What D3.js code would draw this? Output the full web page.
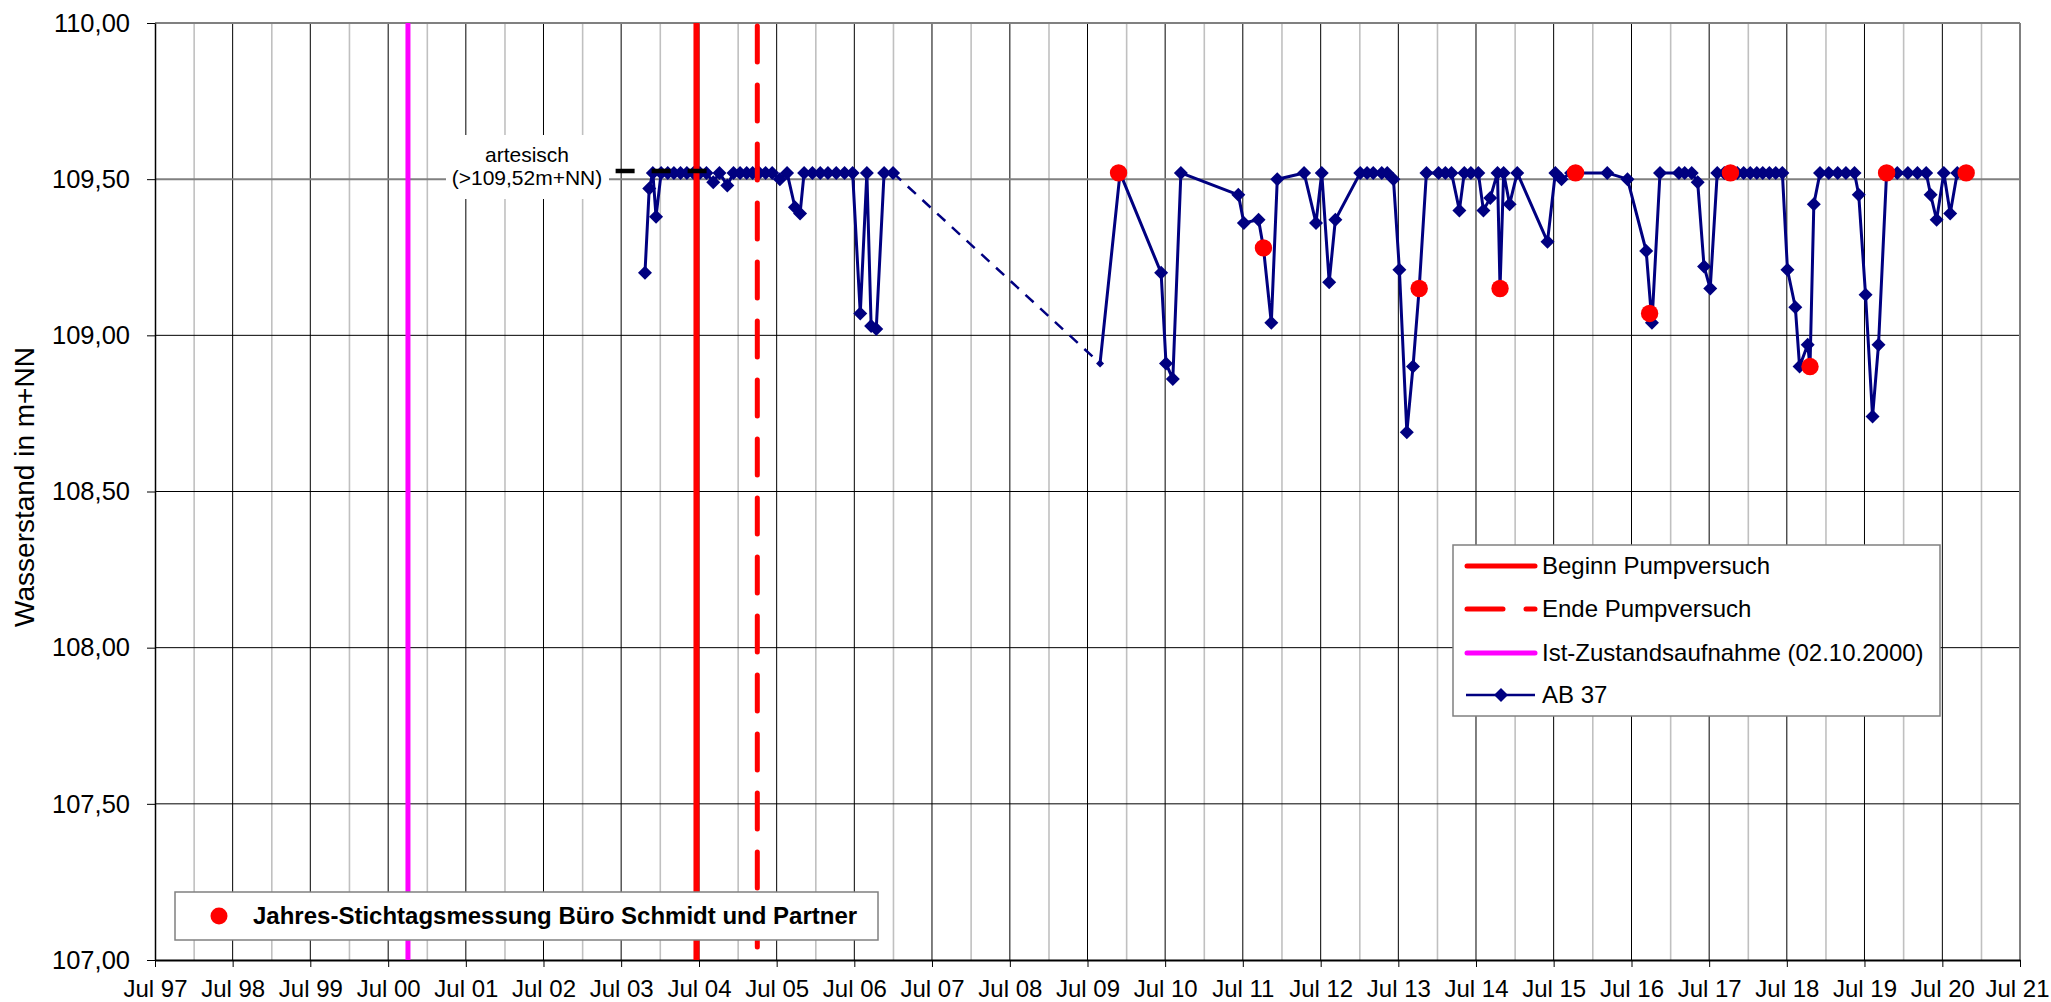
<!DOCTYPE html>
<html>
<head>
<meta charset="utf-8">
<script src="https://cdn.jsdelivr.net/npm/d3@7"></script>
<style>
  html, body { margin: 0; padding: 0; background: #fff; }
  svg { display: block; font-family: "Liberation Sans", Arial, Helvetica, sans-serif; }
</style>
</head>
<body>
<svg id="chart" width="2051" height="1002"></svg>
<script>
// ---- Messreihe AB 37 (Datum, Wasserstand in m+NN) ----
const ab37Dates = [
  "2003-10-21","2003-11-10","2003-11-27","2003-12-12",
  "2004-01-05","2004-02-05","2004-03-05","2004-04-05","2004-05-05","2004-06-05","2004-07-05","2004-08-05",
  "2004-09-06","2004-10-05","2004-11-11","2004-12-10",
  "2005-01-10","2005-02-10","2005-03-10","2005-04-10","2005-05-10","2005-06-10","2005-07-16","2005-08-19",
  "2005-09-25","2005-10-19","2005-11-07","2005-12-16",
  "2006-01-22","2006-02-27","2006-04-07","2006-05-16","2006-06-23","2006-07-29","2006-08-29","2006-09-18",
  "2006-10-12","2006-11-18","2006-12-30",
  "2009-08-29","2009-12-01",
  "2010-06-12","2010-07-05","2010-08-06","2010-09-13",
  "2011-06-10","2011-07-06","2011-09-13","2011-10-06","2011-11-12","2011-12-10",
  "2012-04-14","2012-06-09","2012-07-06","2012-08-10","2012-09-08",
  "2013-01-03","2013-02-04","2013-03-05","2013-04-14","2013-05-10","2013-06-08","2013-07-06","2013-08-10",
  "2013-09-08","2013-10-07","2013-11-10",
  "2014-01-06","2014-02-07","2014-03-08","2014-04-14","2014-05-07","2014-06-07","2014-07-12","2014-08-05",
  "2014-09-06","2014-10-10","2014-10-22","2014-11-08","2014-12-06",
  "2015-01-11","2015-06-02","2015-07-09","2015-08-07","2015-09-21","2015-10-12",
  "2016-03-09","2016-06-12","2016-09-08","2016-10-05","2016-11-12",
  "2017-02-09","2017-03-08","2017-04-10","2017-05-08","2017-06-07","2017-07-06","2017-08-08","2017-09-10",
  "2017-10-09","2017-11-10","2017-12-10",
  "2018-01-10","2018-02-10","2018-03-10","2018-04-10","2018-05-10","2018-06-10","2018-07-04","2018-08-10",
  "2018-08-30","2018-10-07","2018-10-18","2018-11-05","2018-12-04",
  "2019-01-14","2019-02-25","2019-04-05","2019-05-15","2019-06-04","2019-07-06","2019-08-08","2019-09-05",
  "2019-10-13","2019-12-02",
  "2020-01-21","2020-03-06","2020-04-16","2020-05-07","2020-06-04","2020-07-08","2020-08-07","2020-09-09",
  "2020-10-21"
];
const ab37Levels = [
  109.20,109.47,109.52,109.38,
  109.52,109.52,109.52,109.52,109.52,109.52,109.52,109.52,
  109.49,109.52,109.48,109.52,
  109.52,109.52,109.52,109.52,109.52,109.52,109.50,109.52,
  109.41,109.39,109.52,109.52,
  109.52,109.52,109.52,109.52,109.52,109.07,109.52,109.03,
  109.02,109.52,109.52,
  108.91,109.52,
  109.20,108.91,108.86,109.52,
  109.45,109.36,109.37,109.28,109.04,109.50,
  109.52,109.36,109.52,109.17,109.37,
  109.52,109.52,109.52,109.52,109.52,109.50,109.21,108.69,
  108.90,109.15,109.52,
  109.52,109.52,109.52,109.40,109.52,109.52,109.52,109.40,
  109.44,109.52,109.15,109.52,109.42,
  109.52,109.30,109.52,109.50,109.52,109.52,
  109.52,109.50,109.27,109.04,109.52,
  109.52,109.52,109.52,109.49,109.22,109.15,109.52,109.52,
  109.52,109.52,109.52,
  109.52,109.52,109.52,109.52,109.52,109.52,109.21,109.09,
  108.90,108.97,108.90,109.42,109.52,
  109.52,109.52,109.52,109.52,109.45,109.13,108.74,108.97,
  109.52,109.52,
  109.52,109.52,109.52,109.45,109.37,109.52,109.39,109.52,
  109.52
];
// first reading after the 2007-2009 measurement gap; the gap is bridged with a dashed line
const gapEndIndex = 39;

// ---- Jahres-Stichtagsmessung Büro Schmidt und Partner ----
const stichtagDates  = ["2009-11-24","2011-10-06","2013-10-07","2014-10-22","2015-10-12",
                        "2016-09-24","2017-10-09","2018-10-18","2019-10-13","2020-10-21"];
const stichtagLevels = [109.52,109.28,109.15,109.15,109.52,109.07,109.52,108.90,109.52,109.52];

// ---- Ereignisse ----
const istZustandDate = "2000-10-02";
const beginnPumpversuchDate = "2004-06-19";
const endePumpversuchDate = "2005-04-01";

// artesischer Überlauf
const artesischLevel = 109.52;
const artesischRange = ["2003-06-05", "2004-08-08"];

// ---- Achsen ----
const xStartYear = 1997, xEndYear = 2021;   // Achse von Jul 97 bis Jul 21
const yTicks = [107.0, 107.5, 108.0, 108.5, 109.0, 109.5, 110.0];

// ---------------------------------------------------------------
const parse = d3.utcParse("%Y-%m-%d");
const svg = d3.select("#chart");

const plotL = 155, plotR = 2020, plotT = 23, plotB = 960;

const x = d3.scaleUtc()
  .domain([new Date(Date.UTC(xStartYear, 6, 1)), new Date(Date.UTC(xEndYear, 6, 1))])
  .range([plotL, plotR]);
const y = d3.scaleLinear().domain([107, 110]).range([plotB, plotT]);

const julTicks = d3.range(xStartYear, xEndYear + 1).map(yr => new Date(Date.UTC(yr, 6, 1)));
const janLines = d3.range(xStartYear + 1, xEndYear + 1).map(yr => new Date(Date.UTC(yr, 0, 1)));

const de = d3.formatLocale({decimal: ",", thousands: ".", grouping: [3], currency: ["", " €"]});
const fmtY = de.format(".2f");
const fmtX = d3.utcFormat("%b %y");

// gridlines
const grid = svg.append("g");
grid.selectAll("line.jan").data(janLines).join("line")
  .attr("x1", d => x(d)).attr("x2", d => x(d)).attr("y1", plotT).attr("y2", plotB)
  .attr("stroke", "#c0c0c0").attr("stroke-width", 1.6);
grid.append("g").selectAll("line").data(julTicks.slice(1, -1)).join("line")
  .attr("x1", d => x(d)).attr("x2", d => x(d)).attr("y1", plotT).attr("y2", plotB)
  .attr("stroke", "#000").attr("stroke-width", 1);
grid.append("g").selectAll("line").data(yTicks.filter(v => v > 107 && v < 110)).join("line")
  .attr("x1", plotL).attr("x2", plotR).attr("y1", d => y(d)).attr("y2", d => y(d))
  .attr("stroke", d => d === 109.5 ? "#808080" : "#000")
  .attr("stroke-width", d => d === 109.5 ? 2 : 1);

// plot frame (top and right in grey)
svg.append("line").attr("x1", plotL).attr("x2", plotR).attr("y1", plotT).attr("y2", plotT)
  .attr("stroke", "#808080").attr("stroke-width", 2);
svg.append("line").attr("x1", plotR).attr("x2", plotR).attr("y1", plotT).attr("y2", plotB)
  .attr("stroke", "#808080").attr("stroke-width", 2);

// axes
const yAxis = d3.axisLeft(y).tickValues(yTicks).tickFormat(fmtY).tickSize(8).tickSizeOuter(0).tickPadding(17);
const gy = svg.append("g").attr("transform", `translate(${plotL},0)`).call(yAxis);
gy.select(".domain").attr("stroke", "#000").attr("stroke-width", 1.5);
gy.selectAll(".tick line").attr("stroke", "#000");
gy.selectAll("text").attr("font-size", 25.5).attr("fill", "#000")
  .attr("font-family", "Liberation Sans, Arial, sans-serif");

const xAxis = d3.axisBottom(x).tickValues(julTicks).tickFormat(fmtX).tickSize(7).tickSizeOuter(0).tickPadding(13);
const gx = svg.append("g").attr("transform", `translate(0,${plotB})`).call(xAxis);
gx.select(".domain").attr("stroke", "#000").attr("stroke-width", 2.2);
gx.selectAll(".tick line").attr("stroke", "#000");
gx.selectAll("text").attr("font-size", 24).attr("fill", "#000")
  .attr("font-family", "Liberation Sans, Arial, sans-serif");
// keep the last label inside the canvas
gx.selectAll(".tick text").filter((d, i, n) => i === n.length - 1)
  .attr("text-anchor", "end").attr("x", 2051 - plotR - 2);

// axis title
svg.append("text")
  .attr("transform", `translate(34,487) rotate(-90)`)
  .attr("text-anchor", "middle")
  .attr("font-size", 28).attr("fill", "#000")
  .text("Wasserstand in m+NN");

// ---- data series AB 37 ----
const pts = ab37Dates.map((d, i) => ({date: parse(d), v: ab37Levels[i]}));
const line = d3.line().x(d => x(d.date)).y(d => y(d.v));
const navy = "#000080";

svg.append("path").datum(pts.slice(0, gapEndIndex))
  .attr("d", line).attr("fill", "none").attr("stroke", navy).attr("stroke-width", 3)
  .attr("stroke-linejoin", "round");
svg.append("path").datum(pts.slice(gapEndIndex - 1, gapEndIndex + 1))
  .attr("d", line).attr("fill", "none").attr("stroke", navy).attr("stroke-width", 2.5)
  .attr("stroke-dasharray", "11,9");
svg.append("path").datum(pts.slice(gapEndIndex))
  .attr("d", line).attr("fill", "none").attr("stroke", navy).attr("stroke-width", 3)
  .attr("stroke-linejoin", "round");

const diamond = r => `M0,${-r}L${r},0L0,${r}L${-r},0Z`;
svg.append("g").selectAll("path").data(pts).join("path")
  .attr("transform", d => `translate(${x(d.date)},${y(d.v)})`)
  .attr("d", (d, i) => diamond(i === gapEndIndex ? 4 : 7))
  .attr("fill", navy);

// ---- event lines ----
svg.append("line")
  .attr("x1", x(parse(istZustandDate))).attr("x2", x(parse(istZustandDate)))
  .attr("y1", plotT).attr("y2", plotB)
  .attr("stroke", "#ff00ff").attr("stroke-width", 5);
svg.append("line")
  .attr("x1", x(parse(beginnPumpversuchDate))).attr("x2", x(parse(beginnPumpversuchDate)))
  .attr("y1", plotT).attr("y2", plotB)
  .attr("stroke", "#ff0000").attr("stroke-width", 6);
svg.append("line")
  .attr("x1", x(parse(endePumpversuchDate))).attr("x2", x(parse(endePumpversuchDate)))
  .attr("y1", plotT + 3).attr("y2", plotB - 12)
  .attr("stroke", "#ff0000").attr("stroke-width", 5)
  .attr("stroke-linecap", "round").attr("stroke-dasharray", "36,23");

// artesian overflow marker line
svg.append("line")
  .attr("x1", x(parse(artesischRange[0]))).attr("x2", x(parse(artesischRange[1])))
  .attr("y1", y(artesischLevel) - 2).attr("y2", y(artesischLevel) - 2)
  .attr("stroke", "#000").attr("stroke-width", 4.5).attr("stroke-dasharray", "19,17");

// artesian label
svg.append("rect").attr("x", 446).attr("y", 135).attr("width", 163).attr("height", 64).attr("fill", "#fff");
const art = svg.append("text").attr("text-anchor", "middle").attr("font-size", 21).attr("fill", "#000");
art.append("tspan").attr("x", 527).attr("y", 162).text("artesisch");
art.append("tspan").attr("x", 527).attr("y", 185).text("(>109,52m+NN)");

// ---- annual reference measurements ----
svg.append("g").selectAll("circle").data(stichtagDates.map((d, i) => ({date: parse(d), v: stichtagLevels[i]})))
  .join("circle")
  .attr("cx", d => x(d.date)).attr("cy", d => y(d.v)).attr("r", 8.7)
  .attr("fill", "#ff0000");

// ---- legend (right) ----
const lg = svg.append("g");
lg.append("rect").attr("x", 1453).attr("y", 545).attr("width", 487).attr("height", 171)
  .attr("fill", "#fff").attr("stroke", "#808080").attr("stroke-width", 1.5);
const lx0 = 1467, lx1 = 1535, ltx = 1542;
const legendRows = [566, 609, 653, 695];
lg.append("line").attr("x1", lx0).attr("x2", lx1).attr("y1", legendRows[0]).attr("y2", legendRows[0])
  .attr("stroke", "#ff0000").attr("stroke-width", 5).attr("stroke-linecap", "round");
lg.append("line").attr("x1", lx0).attr("x2", lx1).attr("y1", legendRows[1]).attr("y2", legendRows[1])
  .attr("stroke", "#ff0000").attr("stroke-width", 5).attr("stroke-linecap", "round")
  .attr("stroke-dasharray", "36,23");
lg.append("line").attr("x1", lx0).attr("x2", lx1).attr("y1", legendRows[2]).attr("y2", legendRows[2])
  .attr("stroke", "#ff00ff").attr("stroke-width", 5).attr("stroke-linecap", "round");
lg.append("line").attr("x1", lx0 - 1).attr("x2", lx1).attr("y1", legendRows[3]).attr("y2", legendRows[3])
  .attr("stroke", navy).attr("stroke-width", 2.5);
lg.append("path").attr("transform", `translate(${(lx0 + lx1) / 2},${legendRows[3]})`)
  .attr("d", diamond(7)).attr("fill", navy);
const legendLabels = ["Beginn Pumpversuch", "Ende Pumpversuch", "Ist-Zustandsaufnahme (02.10.2000)", "AB 37"];
lg.selectAll("text").data(legendLabels).join("text")
  .attr("x", ltx).attr("y", (d, i) => legendRows[i]).attr("dy", "0.35em")
  .attr("font-size", 24).attr("fill", "#000").text(d => d);

// ---- legend (bottom) ----
const lb = svg.append("g");
lb.append("rect").attr("x", 175).attr("y", 892).attr("width", 703).attr("height", 48)
  .attr("fill", "#fff").attr("stroke", "#808080").attr("stroke-width", 1.5);
lb.append("circle").attr("cx", 219).attr("cy", 916).attr("r", 8.5).attr("fill", "#ff0000");
lb.append("text").attr("x", 253).attr("y", 916).attr("dy", "0.35em")
  .attr("font-size", 24).attr("font-weight", "bold").attr("fill", "#000")
  .text("Jahres-Stichtagsmessung Büro Schmidt und Partner");
</script>
</body>
</html>
